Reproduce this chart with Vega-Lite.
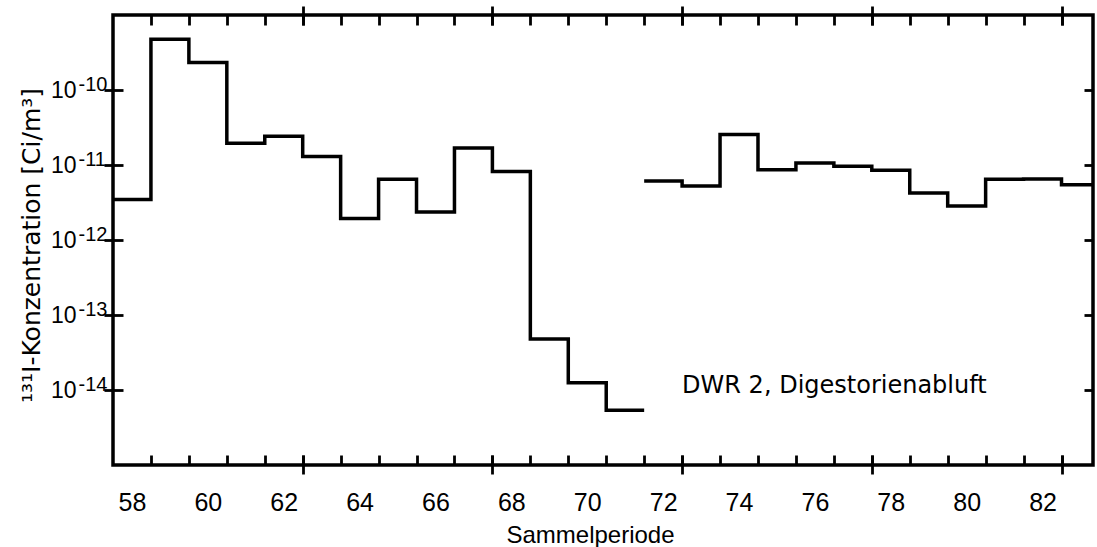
{
  "$schema": "https://vega.github.io/schema/vega-lite/v6.json",
  "width": 980,
  "height": 450,
  "autosize": "none",
  "padding": {"left": 113, "top": 15, "right": 4, "bottom": 82},
  "background": "white",
  "config": {
    "view": {"stroke": "black", "strokeWidth": 3.5},
    "axis": {"domain": false, "grid": false, "tickColor": "black", "tickWidth": 2.8, "labelColor": "black", "titleColor": "black", "labelFlush": false, "labelOverlap": false, "labelBound": false}
  },
  "datasets": {
    "conc": [
      {"x": 57.5, "value": 3.46e-12, "seg": "A"},
      {"x": 58.5, "value": 4.75e-10, "seg": "A"},
      {"x": 59.5, "value": 2.33e-10, "seg": "A"},
      {"x": 60.5, "value": 1.95e-11, "seg": "A"},
      {"x": 61.5, "value": 2.42e-11, "seg": "A"},
      {"x": 62.5, "value": 1.30e-11, "seg": "A"},
      {"x": 63.5, "value": 1.94e-12, "seg": "A"},
      {"x": 64.5, "value": 6.44e-12, "seg": "A"},
      {"x": 65.5, "value": 2.37e-12, "seg": "A"},
      {"x": 66.5, "value": 1.68e-11, "seg": "A"},
      {"x": 67.5, "value": 8.22e-12, "seg": "A"},
      {"x": 68.5, "value": 4.79e-14, "seg": "A"},
      {"x": 69.5, "value": 1.25e-14, "seg": "A"},
      {"x": 70.5, "value": 5.35e-15, "seg": "A"},
      {"x": 71.5, "value": 5.35e-15, "seg": "A"},
      {"x": 71.5, "value": 6.1e-12, "seg": "B"},
      {"x": 72.5, "value": 5.25e-12, "seg": "B"},
      {"x": 73.5, "value": 2.55e-11, "seg": "B"},
      {"x": 74.5, "value": 8.67e-12, "seg": "B"},
      {"x": 75.5, "value": 1.06e-11, "seg": "B"},
      {"x": 76.5, "value": 9.66e-12, "seg": "B"},
      {"x": 77.5, "value": 8.48e-12, "seg": "B"},
      {"x": 78.5, "value": 4.24e-12, "seg": "B"},
      {"x": 79.5, "value": 2.84e-12, "seg": "B"},
      {"x": 80.5, "value": 6.44e-12, "seg": "B"},
      {"x": 81.5, "value": 6.5e-12, "seg": "B"},
      {"x": 82.5, "value": 5.47e-12, "seg": "B"},
      {"x": 83.5, "value": 5.47e-12, "seg": "B"}
    ],
    "note": [
      {"x": 72.5, "y": 1.12e-14, "label": "DWR 2, Digestorienabluft"}
    ]
  },
  "layer": [
    {
      "data": {"name": "conc"},
      "mark": {"type": "line", "interpolate": "step-after", "stroke": "black", "strokeWidth": 3.5, "strokeJoin": "miter", "clip": true},
      "encoding": {
        "x": {"field": "x", "type": "quantitative", "scale": {"domain": [57.5, 83.33], "nice": false, "zero": false},
          "axis": {"orient": "bottom", "values": [58, 60, 62, 64, 66, 68, 70, 72, 74, 76, 78, 80, 82], "format": "d", "ticks": false, "tickSize": 0, "labelPadding": 45, "labelBaseline": "alphabetic", "labelFont": "Liberation Sans", "labelFontSize": 25,
            "title": "Sammelperiode", "titleFont": "Liberation Sans", "titleFontSize": 24, "titleFontWeight": "normal", "titleX": 477, "titleY": 77, "titleBaseline": "alphabetic", "titleAlign": "center"}},
        "y": {"field": "value", "type": "quantitative", "scale": {"type": "log", "domain": [1e-15, 1e-9], "nice": false},
          "axis": {"orient": "left", "values": [1e-14, 1e-13, 1e-12, 1e-11, 1e-10], "labelExpr": "'10'", "ticks": false, "tickSize": 0, "labelPadding": 37, "labelAlign": "right", "labelBaseline": "middle", "labelFont": "Liberation Sans", "labelFontSize": 23,
            "title": "¹³¹I-Konzentration [Ci/m³]", "titleFont": "DejaVu Sans", "titleFontSize": 25, "titleFontWeight": "normal", "titleX": -82, "titleY": 230, "titleAngle": -90, "titleAlign": "center", "titleBaseline": "middle"}},
        "detail": {"field": "seg"}
      }
    },
    {
      "data": {"name": "conc"},
      "mark": {"type": "point", "opacity": 0},
      "encoding": {
        "x": {"field": "x", "type": "quantitative", "scale": {"domain": [57.5, 83.33], "nice": false, "zero": false},
          "axis": {"orient": "bottom", "offset": -10, "values": [58.5, 59.5, 60.5, 61.5, 62.5, 63.5, 64.5, 65.5, 66.5, 67.5, 68.5, 69.5, 70.5, 71.5, 72.5, 73.5, 74.5, 75.5, 76.5, 77.5, 78.5, 79.5, 80.5, 81.5, 82.5], "labels": false, "tickSize": 10, "title": null}},
        "y": {"field": "value", "type": "quantitative", "scale": {"type": "log", "domain": [1e-15, 1e-9], "nice": false},
          "axis": {"orient": "left", "values": [1e-14, 1e-13, 1e-12, 1e-11, 1e-10], "labelExpr": "'' + round(log(datum.value) / LN10)", "ticks": false, "tickSize": 0, "labelPadding": 35, "labelAlign": "left", "labelBaseline": "middle", "labelOffset": -6, "labelFont": "Liberation Sans", "labelFontSize": 20, "title": null}}
      }
    },
    {
      "data": {"name": "conc"},
      "mark": {"type": "point", "opacity": 0},
      "encoding": {
        "x": {"field": "x", "type": "quantitative", "scale": {"domain": [57.5, 83.33], "nice": false, "zero": false},
          "axis": {"orient": "bottom", "offset": -10, "values": [62.5, 67.5, 72.5, 77.5, 82.5], "labels": false, "tickSize": 19, "title": null}},
        "y": {"field": "value", "type": "quantitative", "scale": {"type": "log", "domain": [1e-15, 1e-9], "nice": false},
          "axis": {"orient": "left", "offset": -10, "values": [1e-14, 1e-13, 1e-12, 1e-11, 1e-10], "labels": false, "tickSize": 19, "title": null}}
      }
    },
    {
      "data": {"name": "conc"},
      "mark": {"type": "point", "opacity": 0},
      "encoding": {
        "x": {"field": "x", "type": "quantitative", "scale": {"domain": [57.5, 83.33], "nice": false, "zero": false},
          "axis": {"orient": "top", "offset": -10, "values": [58.5, 59.5, 60.5, 61.5, 62.5, 63.5, 64.5, 65.5, 66.5, 67.5, 68.5, 69.5, 70.5, 71.5, 72.5, 73.5, 74.5, 75.5, 76.5, 77.5, 78.5, 79.5, 80.5, 81.5, 82.5], "labels": false, "tickSize": 10, "title": null}},
        "y": {"field": "value", "type": "quantitative", "scale": {"type": "log", "domain": [1e-15, 1e-9], "nice": false},
          "axis": {"orient": "right", "offset": -9, "values": [1e-14, 1e-13, 1e-12, 1e-11, 1e-10], "labels": false, "tickSize": 9, "title": null}}
      }
    },
    {
      "data": {"name": "note"},
      "mark": {"type": "text", "align": "left", "baseline": "middle", "font": "DejaVu Sans", "fontSize": 24, "color": "black"},
      "encoding": {
        "x": {"field": "x", "type": "quantitative", "scale": {"domain": [57.5, 83.33], "nice": false, "zero": false},
          "axis": {"orient": "top", "offset": -10, "values": [62.5, 67.5, 72.5, 77.5, 82.5], "labels": false, "tickSize": 19, "title": null}},
        "y": {"field": "y", "type": "quantitative", "scale": {"type": "log", "domain": [1e-15, 1e-9], "nice": false}, "axis": null},
        "text": {"field": "label"}
      }
    }
  ],
  "resolve": {"axis": {"x": "independent", "y": "independent"}}
}
